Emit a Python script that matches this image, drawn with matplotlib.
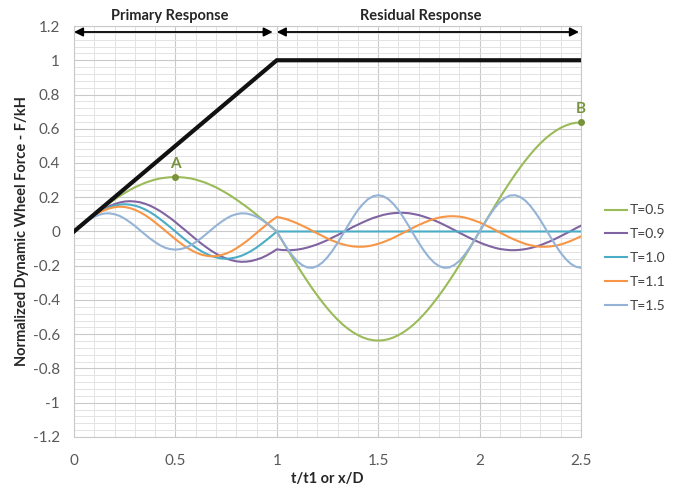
import numpy as np
import matplotlib.pyplot as plt
from matplotlib.ticker import MultipleLocator

plt.rcParams['font.family'] = ['Lato', 'DejaVu Sans']

# time axis, t/t1 in steps of 0.025
t = np.round(np.arange(101) * 0.025, 3)

# ground input (ramp then hold)
ramp_t = [0, 1, 2.5]
ramp_f = [0, 1, 1]

f_t05 = [0, .025, .050, .074, .098, .122, .145, .166, .187, .207, .225, .242, .258, .271,
         .284, .294, .303, .310, .314, .317, .318, .317, .314, .310, .303, .294, .284, .271,
         .258, .242, .225, .207, .187, .166, .145, .122, .098, .074, .050, .025, 0,
         -.050, -.100, -.149, -.197, -.244, -.289, -.333, -.374, -.413, -.450, -.484, -.515,
         -.543, -.567, -.588, -.605, -.619, -.629, -.635, -.637, -.635, -.629, -.619, -.605,
         -.588, -.567, -.543, -.515, -.484, -.450, -.413, -.374, -.333, -.289, -.244, -.197,
         -.149, -.100, -.050, 0,
         .050, .100, .149, .197, .244, .289, .333, .374, .413, .450, .484, .515, .543, .567,
         .588, .605, .619, .629, .635, .637]

f_t09 = [0, .025, .049, .073, .095, .115, .133, .148, .160, .169, .175, .177, .175, .171,
         .162, .151, .136, .119, .099, .078, .055, .030, .006, -.019, -.044, -.068, -.090,
         -.111, -.129, -.145, -.158, -.167, -.174, -.177, -.176, -.172, -.164, -.154, -.140,
         -.123, -.104,
         -.108, -.109, -.109, -.106, -.101, -.094, -.085, -.075, -.063, -.050, -.035, -.021,
         -.005, .010, .026, .040, .054, .067, .079, .088, .097, .103, .107, .109, .109, .107,
         .102, .096, .087, .077, .066, .053, .039, .024, .009, -.007, -.022, -.037, -.051,
         -.064, -.076, -.086, -.095, -.102, -.106, -.109, -.109, -.107, -.103, -.097, -.089,
         -.080, -.068, -.056, -.042, -.027, -.012, .003, .019, .034]

f_t10 = [0, .025, .049, .072, .094, .113, .129, .142, .151, .157, .159, .157, .151, .142,
         .129, .113, .094, .072, .049, .025, 0, -.025, -.049, -.072, -.094, -.113, -.129,
         -.142, -.151, -.157, -.159, -.157, -.151, -.142, -.129, -.113, -.094, -.072, -.049,
         -.025, 0] + [0.0] * 60

f_t11 = [0, .025, .049, .072, .092, .110, .125, .135, .142, .145, .143, .137, .127, .113,
         .096, .076, .053, .029, .005, -.020, -.045, -.068, -.089, -.107, -.122, -.134,
         -.141, -.145, -.144, -.138, -.129, -.116, -.099, -.079, -.058, -.034, -.009, .016,
         .040, .064, .085,
         .079, .071, .060, .048, .034, .020, .004, -.011, -.026, -.041, -.054, -.065, -.075,
         -.082, -.087, -.089, -.089, -.086, -.080, -.072, -.062, -.050, -.037, -.022, -.007,
         .008, .024, .038, .051, .063, .073, .081, .086, .089, .089, .087, .082, .074, .064,
         .053, .039, .025, .010, -.006, -.021, -.036, -.049, -.061, -.072, -.080, -.086,
         -.089, -.089, -.087, -.083, -.076, -.066, -.055, -.042, -.028]

f_t15 = [0, .025, .048, .069, .086, .098, .105, .106, .101, .091, .075, .055, .033, .008,
         -.017, -.041, -.062, -.081, -.095, -.103, -.106, -.103, -.095, -.081, -.062, -.041,
         -.017, .008, .033, .055, .075, .091, .101, .106, .105, .098, .086, .069, .048, .025, 0,
         -.050, -.096, -.138, -.172, -.196, -.210, -.212, -.202, -.181, -.150, -.111, -.066,
         -.017, .033, .081, .125, .161, .189, .206, .212, .206, .189, .161, .125, .081, .033,
         -.017, -.066, -.111, -.150, -.181, -.202, -.212, -.210, -.196, -.172, -.138, -.096,
         -.050, 0, .050, .096, .138, .172, .196, .210, .212, .202, .181, .150, .111, .066,
         .017, -.033, -.081, -.125, -.161, -.189, -.206, -.212]

labels = ['T=0.5', 'T=0.9', 'T=1.0', 'T=1.1', 'T=1.5']
colors = ['#9bbb59', '#8064a2', '#4bacc6', '#f79646', '#95b3d7']
series = [f_t05, f_t09, f_t10, f_t11, f_t15]

# marked points A and B on the T=0.5 curve
pt_a = (0.5, 0.318)
pt_b = (2.5, 0.637)

fig = plt.figure(figsize=(6.8, 4.87), dpi=100)
ax = fig.add_axes([0.1088, 0.1027, 0.7456, 0.8439])

for f, lab, c in zip(series, labels, colors):
    ax.plot(t, f, color=c, lw=1.5, label=lab, zorder=3)

ax.plot(ramp_t, ramp_f, color='#111111', lw=3, solid_joinstyle='miter', zorder=5)

for (px, py), name in [(pt_a, 'A'), (pt_b, 'B')]:
    ax.plot(px, py, 'o', color='#77933c', ms=4, zorder=6, clip_on=False)
    ax.text(px, py + 0.035, name, color='#77933c', fontsize=11, fontweight='bold',
            ha='center', va='bottom', zorder=6)

# region arrows and headings
arrow = dict(arrowstyle='<|-|>', color='black', lw=1.3, mutation_scale=13,
             shrinkA=0, shrinkB=0)
ax.annotate('', xy=(0, 1.165), xytext=(0.98, 1.165), arrowprops=arrow)
ax.annotate('', xy=(1.0, 1.165), xytext=(2.49, 1.165), arrowprops=arrow)
ax.text(0.47, 1.258, 'Primary Response', fontsize=10.5, fontweight='bold', color='#262626',
        ha='center', va='center', clip_on=False)
ax.text(1.71, 1.258, 'Residual Response', fontsize=10.5, fontweight='bold', color='#262626',
        ha='center', va='center', clip_on=False)

ax.set_xlim(0, 2.5)
ax.set_ylim(-1.2, 1.2)
ax.xaxis.set_major_locator(MultipleLocator(0.5))
ax.xaxis.set_minor_locator(MultipleLocator(0.1))
ax.yaxis.set_major_locator(MultipleLocator(0.2))
ax.yaxis.set_minor_locator(MultipleLocator(0.04))
ax.set_xticks([0, 0.5, 1, 1.5, 2, 2.5])
ax.set_xticklabels(['0', '0.5', '1', '1.5', '2', '2.5'])
yt = np.round(np.arange(-6, 7) * 0.2, 1)
ax.set_yticks(yt)
ax.set_yticklabels(['{:g}'.format(v) for v in yt])

ax.grid(which='major', color='#c9c9c9', lw=0.8)
ax.grid(which='minor', color='#e3e3e3', lw=0.7)
ax.set_axisbelow(True)
ax.tick_params(which='both', length=0, labelsize=11, labelcolor='#595959')
ax.tick_params(axis='x', pad=12)
ax.tick_params(axis='y', pad=10)
for s in ax.spines.values():
    s.set_color('#c9c9c9')
    s.set_linewidth(0.8)

ax.set_xlabel('t/t1 or x/D', fontsize=10.5, fontweight='bold', color='#262626', labelpad=3)
ax.set_ylabel('Normalized Dynamic Wheel Force - F/kH', fontsize=10.5, fontweight='bold',
              color='#262626', labelpad=3)

fig.legend(loc='center left', bbox_to_anchor=(605 / 680, 1 - 258 / 487), frameon=False,
           fontsize=10, handlelength=1.6, handletextpad=0.2, labelspacing=0.85,
           borderpad=0, borderaxespad=0, labelcolor='#404040')

fig.savefig('out.png', dpi=100)
